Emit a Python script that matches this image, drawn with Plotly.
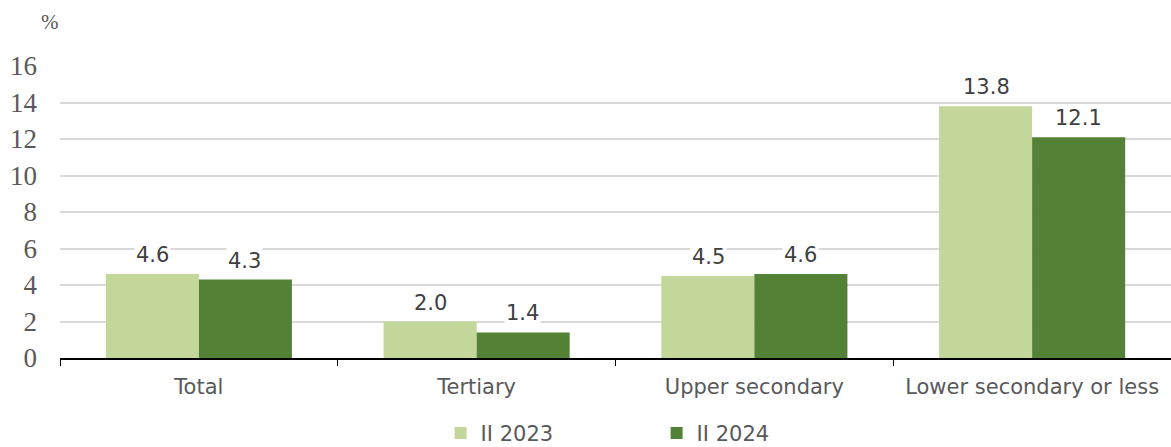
import plotly.graph_objects as go

categories = ["Total", "Tertiary", "Upper secondary", "Lower secondary or less"]
series_names = ["II 2023", "II 2024"]
values_2023 = [4.6, 2.0, 4.5, 13.8]
values_2024 = [4.3, 1.4, 4.6, 12.1]
y_ticks = [0, 2, 4, 6, 8, 10, 12, 14, 16]

colors = ["#C4D79B", "#538135"]

fig = go.Figure()
for name, vals, col in zip(series_names, [values_2023, values_2024], colors):
    fig.add_trace(go.Bar(x=categories, y=vals, name=name, marker_color=col,
                         marker_line_width=0))

# data labels with white background
for i, vals in enumerate([values_2023, values_2024]):
    shift = -46 if i == 0 else 46
    for c, v in zip(categories, vals):
        fig.add_annotation(x=c, y=v, text=f"{v:.1f}", showarrow=False,
                           xshift=shift, yshift=5, yanchor="bottom",
                           bgcolor="white", borderpad=1,
                           font=dict(family="DejaVu Sans", size=21, color="#404040"))

fig.add_annotation(x=0, y=1, xref="paper", yref="paper", text="%",
                   showarrow=False, xanchor="right", yanchor="bottom",
                   xshift=1, yshift=30,
                   font=dict(family="Liberation Serif", size=21, color="#595959"))

fig.update_layout(
    width=1171, height=447,
    margin=dict(l=60, r=0, t=66, b=89, autoexpand=False),
    plot_bgcolor="white", paper_bgcolor="white",
    barmode="group", bargap=0.33, bargroupgap=0,
    showlegend=True,
    legend=dict(orientation="h", x=0.537, xanchor="center", y=-0.258, yanchor="middle",
                font=dict(family="DejaVu Sans", size=21, color="#595959"),
                entrywidth=171, itemwidth=30, traceorder="normal"),
    xaxis=dict(showline=True, linecolor="black", linewidth=1.5, automargin=False,
               ticks="outside", tickson="boundaries", ticklen=6, tickcolor="black",
               ticklabelstandoff=9,
               tickfont=dict(family="DejaVu Sans", size=21, color="#595959"),
               showgrid=False),
    yaxis=dict(range=[0, 16], tickvals=y_ticks, showgrid=True, gridcolor="#D9D9D9",
               gridwidth=1.5, zeroline=False, showline=False, ticks="", automargin=False,
               ticklabelstandoff=22,
               tickfont=dict(family="Liberation Serif", size=27, color="#595959")),
)

fig.write_html("out.html", post_script="document.body.style.margin='0';",
               config={"displayModeBar": False})
